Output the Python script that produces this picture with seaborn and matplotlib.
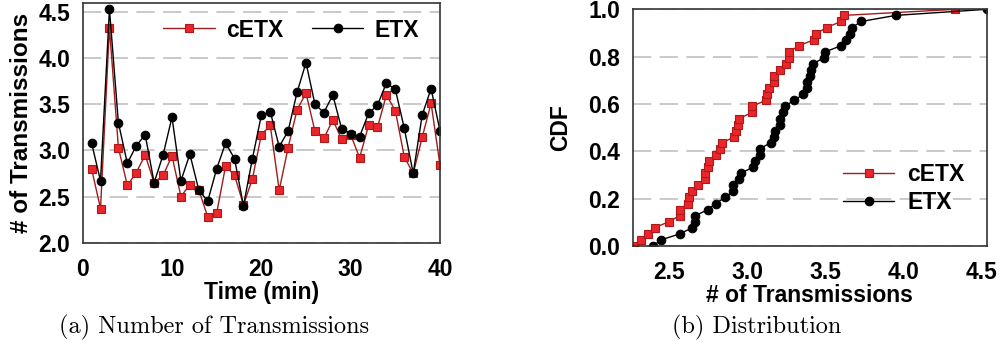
import numpy as np
import pandas as pd
import matplotlib
matplotlib.use("Agg")
import matplotlib.pyplot as plt
import seaborn as sns

# data (one sample per minute)
minutes = list(range(1, 41))
cetx = [2.80, 2.37, 4.33, 3.03, 2.62, 2.76, 2.95, 2.65, 2.73, 2.94,
        2.50, 2.63, 2.57, 2.28, 2.32, 2.83, 2.73, 2.41, 2.69, 3.17,
        3.27, 2.57, 3.03, 3.44, 3.62, 3.21, 3.13, 3.33, 3.12, 3.17,
        2.92, 3.27, 3.25, 3.60, 3.43, 2.93, 2.75, 3.14, 3.51, 2.84]
etx = [3.08, 2.67, 4.53, 3.30, 2.86, 3.05, 3.17, 2.65, 2.95, 3.36,
       2.67, 2.96, 2.57, 2.45, 2.80, 3.08, 2.91, 2.40, 2.91, 3.38,
       3.42, 3.04, 3.21, 3.63, 3.95, 3.50, 3.41, 3.60, 3.23, 3.18,
       3.15, 3.40, 3.49, 3.73, 3.66, 3.24, 2.75, 3.38, 3.67, 3.21]

y_ticks_a = [2.0, 2.5, 3.0, 3.5, 4.0, 4.5]
x_ticks_a = [0, 10, 20, 30, 40]
x_ticks_b = [2.5, 3.0, 3.5, 4.0, 4.5]
y_ticks_b = [0.0, 0.2, 0.4, 0.6, 0.8, 1.0]

# empirical CDF of each series
def ecdf(vals):
    v = np.sort(np.asarray(vals))
    return pd.DataFrame({"x": v, "p": np.arange(len(v)) / (len(v) - 1)})

cdf_cetx = ecdf(cetx)
cdf_etx = ecdf(etx)

sns.set_style("white")
plt.rcParams["font.family"] = ["Liberation Sans", "DejaVu Sans"]
plt.rcParams["font.weight"] = "bold"
plt.rcParams["axes.labelweight"] = "bold"
plt.rcParams["text.color"] = "black"
plt.rcParams["axes.labelcolor"] = "black"
plt.rcParams["xtick.color"] = "black"
plt.rcParams["ytick.color"] = "black"

FS = 16.5

red_style = dict(color="#a01c1c", marker="s", markersize=5.5, markerfacecolor="#e8262c",
                 markeredgecolor="#b01818", markeredgewidth=0.8, linewidth=1.0)
black_style = dict(color="black", marker="o", markersize=6.2, markerfacecolor="black",
                   markeredgecolor="black", linewidth=1.0)

fig = plt.figure(figsize=(10.03, 3.5), dpi=100)
ax1 = fig.add_axes([0.0824, 0.3066, 0.3563, 0.6857])
ax2 = fig.add_axes([0.6308, 0.2971, 0.3529, 0.6763])

# --- (a) time series ---
sns.lineplot(x=minutes, y=cetx, ax=ax1, label="cETX", estimator=None, sort=False, **red_style)
sns.lineplot(x=minutes, y=etx, ax=ax1, label="ETX", estimator=None, sort=False, **black_style)
ax1.set_xlim(0, 40)
ax1.set_ylim(2.0, 4.6)
ax1.set_xticks(x_ticks_a)
ax1.set_yticks(y_ticks_a)
ax1.set_yticklabels([f"{t:.1f}" for t in y_ticks_a])
ax1.set_xlabel("Time (min)", fontsize=FS, labelpad=0)
ax1.set_ylabel("# of Transmissions", fontsize=17.5, labelpad=4)
ax1.legend(ncol=2, loc="upper right", bbox_to_anchor=(1.0, 1.02), frameon=False,
           fontsize=FS, handlelength=2.25, columnspacing=1.25, handletextpad=0.5)

# --- (b) CDF ---
sns.lineplot(data=cdf_cetx, x="x", y="p", ax=ax2, label="cETX", estimator=None, sort=False, **red_style)
sns.lineplot(data=cdf_etx, x="x", y="p", ax=ax2, label="ETX", estimator=None, sort=False, **black_style)
ax2.set_xlim(min(min(cetx), min(etx)) - 0.01, max(max(cetx), max(etx)))
ax2.set_ylim(0, 1.0)
ax2.set_xticks(x_ticks_b)
ax2.set_yticks(y_ticks_b)
ax2.set_xticklabels([f"{t:.1f}" for t in x_ticks_b])
ax2.set_yticklabels([f"{t:.1f}" for t in y_ticks_b])
ax2.set_xlabel("# of Transmissions", fontsize=FS, labelpad=0)
ax2.set_ylabel("CDF", fontsize=FS, labelpad=12)
ax2.legend(loc="lower right", bbox_to_anchor=(0.995, 0.05), frameon=False,
           fontsize=FS, handlelength=2.25, handletextpad=0.55, labelspacing=0.2)

for ax in (ax1, ax2):
    ax.yaxis.grid(True, color="#c0c0c0", linewidth=1.2, linestyle=(0, (11, 5)))
    ax.set_axisbelow(True)
    for sp in ax.spines.values():
        sp.set_color("#333333")
        sp.set_linewidth(1.2)
    ax.tick_params(axis="x", direction="in", length=4, width=1, color="#333333",
                   labelsize=FS, pad=11)
    ax.tick_params(axis="y", length=0, labelsize=FS, pad=9)

fig.text(214 / 1003, 1 - 327 / 350, "(a) Number of Transmissions", family="cmr10",
         fontweight="normal", fontsize=17.5, ha="center", va="center")
fig.text(757 / 1003, 1 - 327 / 350, "(b) Distribution", family="cmr10",
         fontweight="normal", fontsize=17.5, ha="center", va="center")

fig.savefig("out.png", dpi=100)
